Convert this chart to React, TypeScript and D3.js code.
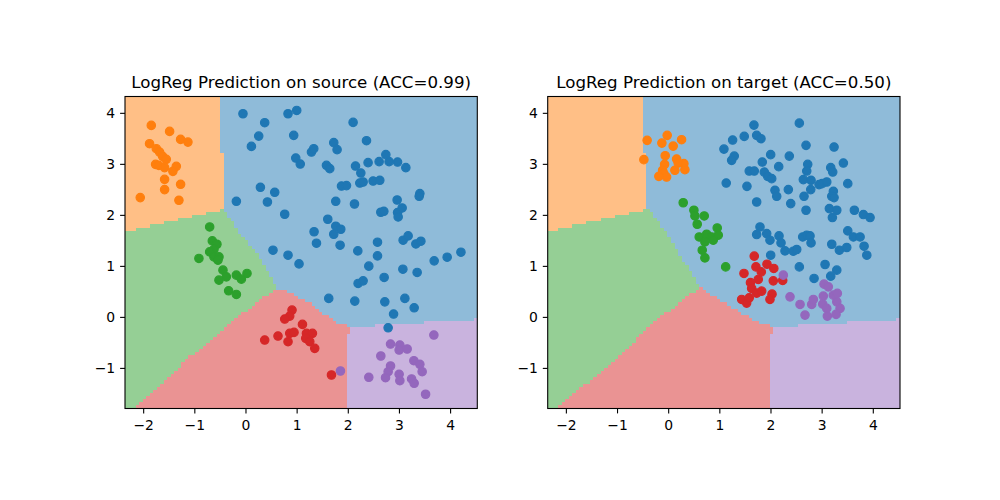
import React from 'react';
import * as d3 from 'd3';

const POINT_COLORS = ['#1f77b4', '#ff7f0e', '#2ca02c', '#d62728', '#9467bd'];
const REGION_COLORS = ['#8fbbd9', '#ffbf86', '#95cf95', '#ea9393', '#c9b3de'];

const X_TICKS = [-2, -1, 0, 1, 2, 3, 4];
const Y_TICKS = [-1, 0, 1, 2, 3, 4];
const X_DOMAIN: [number, number] = [-2.365, 4.522];
const Y_DOMAIN: [number, number] = [-1.786, 4.33];
const GRID_N = 100;

const TITLES = ['LogReg Prediction on source (ACC=0.99)', 'LogReg Prediction on target (ACC=0.50)'];

// ---------- decision regions (polygons in data space; blue = everything else) ----------
const orangeRegion = [[-3, 5], [-0.536, 5], [-0.43, 2.12], [-3, 1.53]];
const sourceGreenRegion = [[-3, 1.53], [-0.43, 2.12], [-0.123, 1.649], [0.21, 1.258], [0.6, 0.573], [-0.319, -0.112], [-1.16, -0.836], [-2.08, -1.677], [-3, -2.5]];
const sourceRedRegion = [[0.6, 0.573], [0.855, 0.477], [1.247, 0.28], [1.775, -0.112], [2.05, -0.2], [2.05, -2.5], [-3, -2.5], [-2.08, -1.677], [-1.16, -0.836], [-0.319, -0.112]];
const targetGreenRegion = [[-3, 1.55], [-0.43, 2.12], [-0.368, 2.1], [-0.035, 1.65], [0.278, 1.12], [0.552, 0.69], [0.61, 0.593], [-0.23, -0.053], [-1.21, -0.973], [-2.13, -1.716], [-3, -2.5]];
const targetRedRegion = [[0.61, 0.593], [1.061, 0.3], [1.648, -0.053], [2.05, -0.2], [2.05, -2.5], [-3, -2.5], [-2.13, -1.716], [-1.21, -0.973], [-0.23, -0.053]];
const purpleRegion = [[1.975, -2.5], [1.975, -0.33], [2.06, -0.33], [2.06, -0.1966], [4.6, -0.0352], [4.6, -2.5]];

// ---------- source points ----------
const sourceBlue = [
  [-0.059, 3.992], [0.366, 3.816], [0.822, 3.992], [0.992, 4.057], [0.249, 3.554], [0.933, 3.568], [0.106, 3.352],
  [0.973, 3.123], [1.061, 3.006], [0.282, 2.55], [0.562, 2.452], [-0.188, 2.276], [0.419, 2.262], [0.757, 2.022],
  [0.528, 1.317], [2.094, 3.822], [1.716, 3.425], [1.781, 3.288], [1.28, 3.241], [1.325, 3.307], [2.356, 3.464],
  [1.573, 2.98], [1.638, 2.916], [2.141, 2.967], [2.387, 3.033], [2.603, 3.053], [2.734, 3.19], [2.798, 3.053],
  [2.963, 3.045], [3.125, 2.935], [2.245, 2.83], [1.867, 2.575], [1.965, 2.583], [2.225, 2.634], [2.29, 2.654],
  [2.485, 2.673], [2.616, 2.687], [1.755, 2.276], [2.121, 2.223], [2.955, 2.301], [3.399, 2.427], [3.386, 2.374],
  [1.599, 1.924], [2.636, 2.061], [2.695, 2.08], [2.963, 2.055], [3.053, 2.145], [2.975, 1.969], [1.331, 1.679],
  [1.755, 1.787], [1.853, 1.728], [1.716, 1.63], [1.378, 1.454], [1.84, 1.415], [2.186, 1.303], [2.571, 1.474],
  [2.571, 1.205], [3.072, 1.513], [3.17, 1.597], [3.321, 1.44], [3.419, 1.493], [3.679, 1.108], [3.933, 1.18],
  [4.202, 1.278], [0.822, 1.219], [1.037, 1.049], [2.401, 1.004], [3.067, 0.945], [3.346, 0.881], [2.701, 0.783],
  [2.192, 0.665], [2.29, 0.716], [1.618, 0.372], [2.127, 0.319], [2.714, 0.305], [3.106, 0.372], [3.288, 0.188],
  [2.885, 0.065], [2.779, -0.204],
];
const sourceOrange = [
  [-1.851, 3.763], [-1.493, 3.646], [-1.278, 3.489], [-1.135, 3.436], [-1.885, 3.405], [-1.753, 3.307], [-1.689, 3.241],
  [-1.63, 3.157], [-1.558, 3.098], [-1.767, 3.0], [-1.703, 2.98], [-1.591, 2.935], [-1.362, 2.961], [-1.429, 2.863],
  [-1.591, 2.706], [-1.278, 2.609], [-1.591, 2.505], [-2.067, 2.348], [-1.311, 2.295],
];
const sourceGreen = [
  [-0.71, 1.773], [-0.658, 1.499], [-0.568, 1.434], [-0.626, 1.331], [-0.71, 1.284], [-0.626, 1.186], [-0.528, 1.186],
  [-0.548, 1.121], [-0.92, 1.155], [-0.45, 0.926], [-0.384, 0.795], [-0.528, 0.73], [-0.188, 0.828], [-0.09, 0.75],
  [0.02, 0.861], [-0.339, 0.521], [-0.188, 0.45],
];
const sourceRed = [
  [0.9, 0.143], [0.855, 0.025], [0.757, -0.033], [1.104, -0.137], [0.626, -0.366], [0.366, -0.444], [0.855, -0.313],
  [0.939, -0.294], [0.822, -0.477], [1.182, -0.313], [1.299, -0.313], [1.168, -0.411], [1.247, -0.477], [1.344, -0.607],
  [1.671, -1.129],
];
const sourcePurple = [
  [1.847, -1.051], [2.826, -0.523], [3.008, -0.542], [2.994, -0.64], [3.151, -0.62], [2.636, -0.757], [2.826, -0.953],
  [2.779, -1.065], [2.994, -1.115], [2.728, -1.182], [3.008, -1.241], [2.401, -1.174], [3.282, -0.849], [3.399, -0.92],
  [3.444, -1.065], [3.237, -1.207], [3.288, -1.292], [3.511, -1.507], [3.673, -0.346],
];

// ---------- target points ----------
const targetBlue = [
  [1.667, 3.769], [2.554, 3.808], [1.477, 3.548], [1.72, 3.568], [1.804, 3.503], [1.25, 3.476], [1.08, 3.299],
  [2.685, 3.372], [3.233, 3.339], [1.994, 3.19], [2.358, 3.162], [1.282, 3.162], [1.231, 3.078], [1.83, 3.045],
  [2.151, 2.955], [2.718, 3.0], [2.699, 2.869], [3.168, 2.935], [3.207, 2.849], [3.415, 3.025], [1.575, 2.869],
  [1.673, 2.869], [1.869, 2.849], [1.935, 2.765], [2.014, 2.72], [2.632, 2.701], [2.783, 2.687], [2.939, 2.603],
  [2.998, 2.622], [3.09, 2.654], [2.777, 2.505], [3.501, 2.622], [1.125, 2.634], [1.53, 2.569], [2.078, 2.491],
  [2.339, 2.505], [2.112, 2.374], [3.219, 2.472], [3.188, 2.374], [3.233, 2.348], [2.646, 2.374], [1.72, 2.262],
  [2.386, 2.231], [2.685, 2.1], [3.141, 2.133], [3.286, 2.1], [3.2, 1.957], [3.63, 2.1], [3.806, 2.016],
  [3.937, 1.957], [1.785, 1.773], [1.72, 1.624], [1.916, 1.644], [1.98, 1.513], [2.157, 1.597], [2.196, 1.46],
  [2.274, 1.303], [2.436, 1.297], [2.503, 1.331], [2.62, 1.577], [2.699, 1.611], [2.763, 1.597], [2.783, 1.46],
  [3.188, 1.434], [3.337, 1.317], [3.481, 1.37], [3.501, 1.695], [3.611, 1.577], [3.742, 1.577], [3.82, 1.395],
  [3.873, 1.219], [1.994, 1.219], [2.554, 0.99], [3.057, 1.037], [3.286, 0.926], [2.842, 0.763], [3.168, 0.808],
];
const targetOrange = [
  [-0.421, 3.47], [-0.029, 3.568], [-0.133, 3.417], [0.252, 3.483], [0.088, 3.358], [-0.068, 3.17], [-0.485, 3.092],
  [0.155, 3.104], [-0.08, 3.0], [0.297, 3.014], [0.186, 3.025], [0.121, 2.883], [0.317, 2.896], [-0.119, 2.883],
  [-0.094, 2.818], [-0.192, 2.765], [-0.041, 2.751],
];
const targetGreen = [
  [0.284, 2.247], [0.493, 2.1], [0.513, 1.988], [0.695, 1.988], [0.558, 1.826], [0.949, 1.753], [0.597, 1.577],
  [0.742, 1.63], [0.84, 1.577], [0.969, 1.611], [0.708, 1.479], [0.871, 1.513], [0.656, 1.317], [0.708, 1.166],
  [1.114, 0.99],
];
const targetRed = [
  [1.673, 1.2], [1.472, 0.861], [1.706, 0.99], [1.922, 1.043], [2.055, 0.959], [1.81, 0.892], [1.751, 0.744],
  [1.599, 0.681], [2.045, 0.716], [2.229, 0.724], [1.622, 0.568], [1.72, 0.476], [1.818, 0.515], [2.02, 0.456],
  [1.98, 0.352], [1.427, 0.352], [1.524, 0.28], [1.575, 0.384],
];
const targetPurple = [
  [2.241, 0.828], [2.372, 0.403], [2.568, 0.254], [2.665, 0.045], [2.796, 0.254], [2.828, 0.352], [3.037, 0.652],
  [3.121, 0.599], [3.023, 0.417], [3.219, 0.436], [3.297, 0.47], [3.286, 0.305], [3.012, 0.26], [3.09, 0.176],
  [3.35, 0.176], [3.102, 0.025], [3.272, 0.059],
];

type Pt = number[];
interface PanelDef {
  title: string;
  x0: number;
  x1: number;
  regions: { cls: number; poly: Pt[] }[];
  points: Pt[][];
}

const PANELS: PanelDef[] = [
  {
    title: TITLES[0], x0: 125, x1: 477.3,
    regions: [
      { cls: 4, poly: purpleRegion }, { cls: 3, poly: sourceRedRegion },
      { cls: 2, poly: sourceGreenRegion }, { cls: 1, poly: orangeRegion },
    ],
    points: [sourceBlue, sourceOrange, sourceGreen, sourceRed, sourcePurple],
  },
  {
    title: TITLES[1], x0: 547.7, x1: 900,
    regions: [
      { cls: 4, poly: purpleRegion }, { cls: 3, poly: targetRedRegion },
      { cls: 2, poly: targetGreenRegion }, { cls: 1, poly: orangeRegion },
    ],
    points: [targetBlue, targetOrange, targetGreen, targetRed, targetPurple],
  },
];

const Y0 = 96.5;
const Y1 = 408.5;
const FONT = 'DejaVu Sans, sans-serif';

const fmt = (v: number) => (v < 0 ? '\u2212' + Math.abs(v) : String(v));

function Panel({ def }: { def: PanelDef }) {
  const x = d3.scaleLinear().domain(X_DOMAIN).range([def.x0, def.x1]);
  const y = d3.scaleLinear().domain(Y_DOMAIN).range([Y1, Y0]);
  const dx = (X_DOMAIN[1] - X_DOMAIN[0]) / GRID_N;
  const dy = (Y_DOMAIN[1] - Y_DOMAIN[0]) / GRID_N;

  const classify = (px: number, py: number) => {
    for (const r of def.regions) {
      if (d3.polygonContains(r.poly as [number, number][], [px, py])) return r.cls;
    }
    return 0;
  };

  const paths: string[] = ['', '', '', '', ''];
  for (let j = 0; j < GRID_N; j++) {
    const cy = Y_DOMAIN[0] + (j + 0.5) * dy;
    const yb = y(Y_DOMAIN[0] + j * dy);
    const yt = y(Y_DOMAIN[0] + (j + 1) * dy);
    let start = 0;
    let cur = classify(X_DOMAIN[0] + 0.5 * dx, cy);
    for (let i = 1; i <= GRID_N; i++) {
      const c = i < GRID_N ? classify(X_DOMAIN[0] + (i + 0.5) * dx, cy) : -1;
      if (c !== cur) {
        const xl = x(X_DOMAIN[0] + start * dx);
        const xr = x(X_DOMAIN[0] + i * dx);
        paths[cur] += `M${xl},${yt}H${xr}V${yb}H${xl}Z`;
        start = i;
        cur = c;
      }
    }
  }

  const cx = (def.x0 + def.x1) / 2;
  return (
    <g>
      {paths.map((d, k) => (
        <path key={k} d={d} fill={REGION_COLORS[k]} shapeRendering="crispEdges" />
      ))}
      {def.points.map((pts, k) => (
        <g key={k}>
          {pts.map((p, i) => (
            <circle key={i} cx={x(p[0])} cy={y(p[1])} r={4.2} fill={POINT_COLORS[k]} stroke={POINT_COLORS[k]} strokeWidth={1.2} />
          ))}
        </g>
      ))}
      <rect x={def.x0} y={Y0} width={def.x1 - def.x0} height={Y1 - Y0} fill="none" stroke="#000" strokeWidth={1.1} />
      {X_TICKS.map((t) => (
        <g key={'x' + t}>
          <line x1={x(t)} x2={x(t)} y1={Y1} y2={Y1 + 4.9} stroke="#000" strokeWidth={1.1} />
          <text x={x(t)} y={430} textAnchor="middle" fontSize={13.9} fontFamily={FONT} fill="#000">{fmt(t)}</text>
        </g>
      ))}
      {Y_TICKS.map((t) => (
        <g key={'y' + t}>
          <line x1={def.x0} x2={def.x0 - 4.9} y1={y(t)} y2={y(t)} stroke="#000" strokeWidth={1.1} />
          <text x={def.x0 - 9.8} y={y(t) + 5} textAnchor="end" fontSize={13.9} fontFamily={FONT} fill="#000">{fmt(t)}</text>
        </g>
      ))}
      <text x={cx} y={88} textAnchor="middle" fontSize={16.67} fontFamily={FONT} fill="#000">{def.title}</text>
    </g>
  );
}

export default function App() {
  return (
    <svg width={1000} height={500} style={{ position: 'absolute', left: 0, top: 0, background: '#fff' }}>
      <rect x={0} y={0} width={1000} height={500} fill="#fff" />
      {PANELS.map((p, i) => (
        <Panel key={i} def={p} />
      ))}
    </svg>
  );
}
